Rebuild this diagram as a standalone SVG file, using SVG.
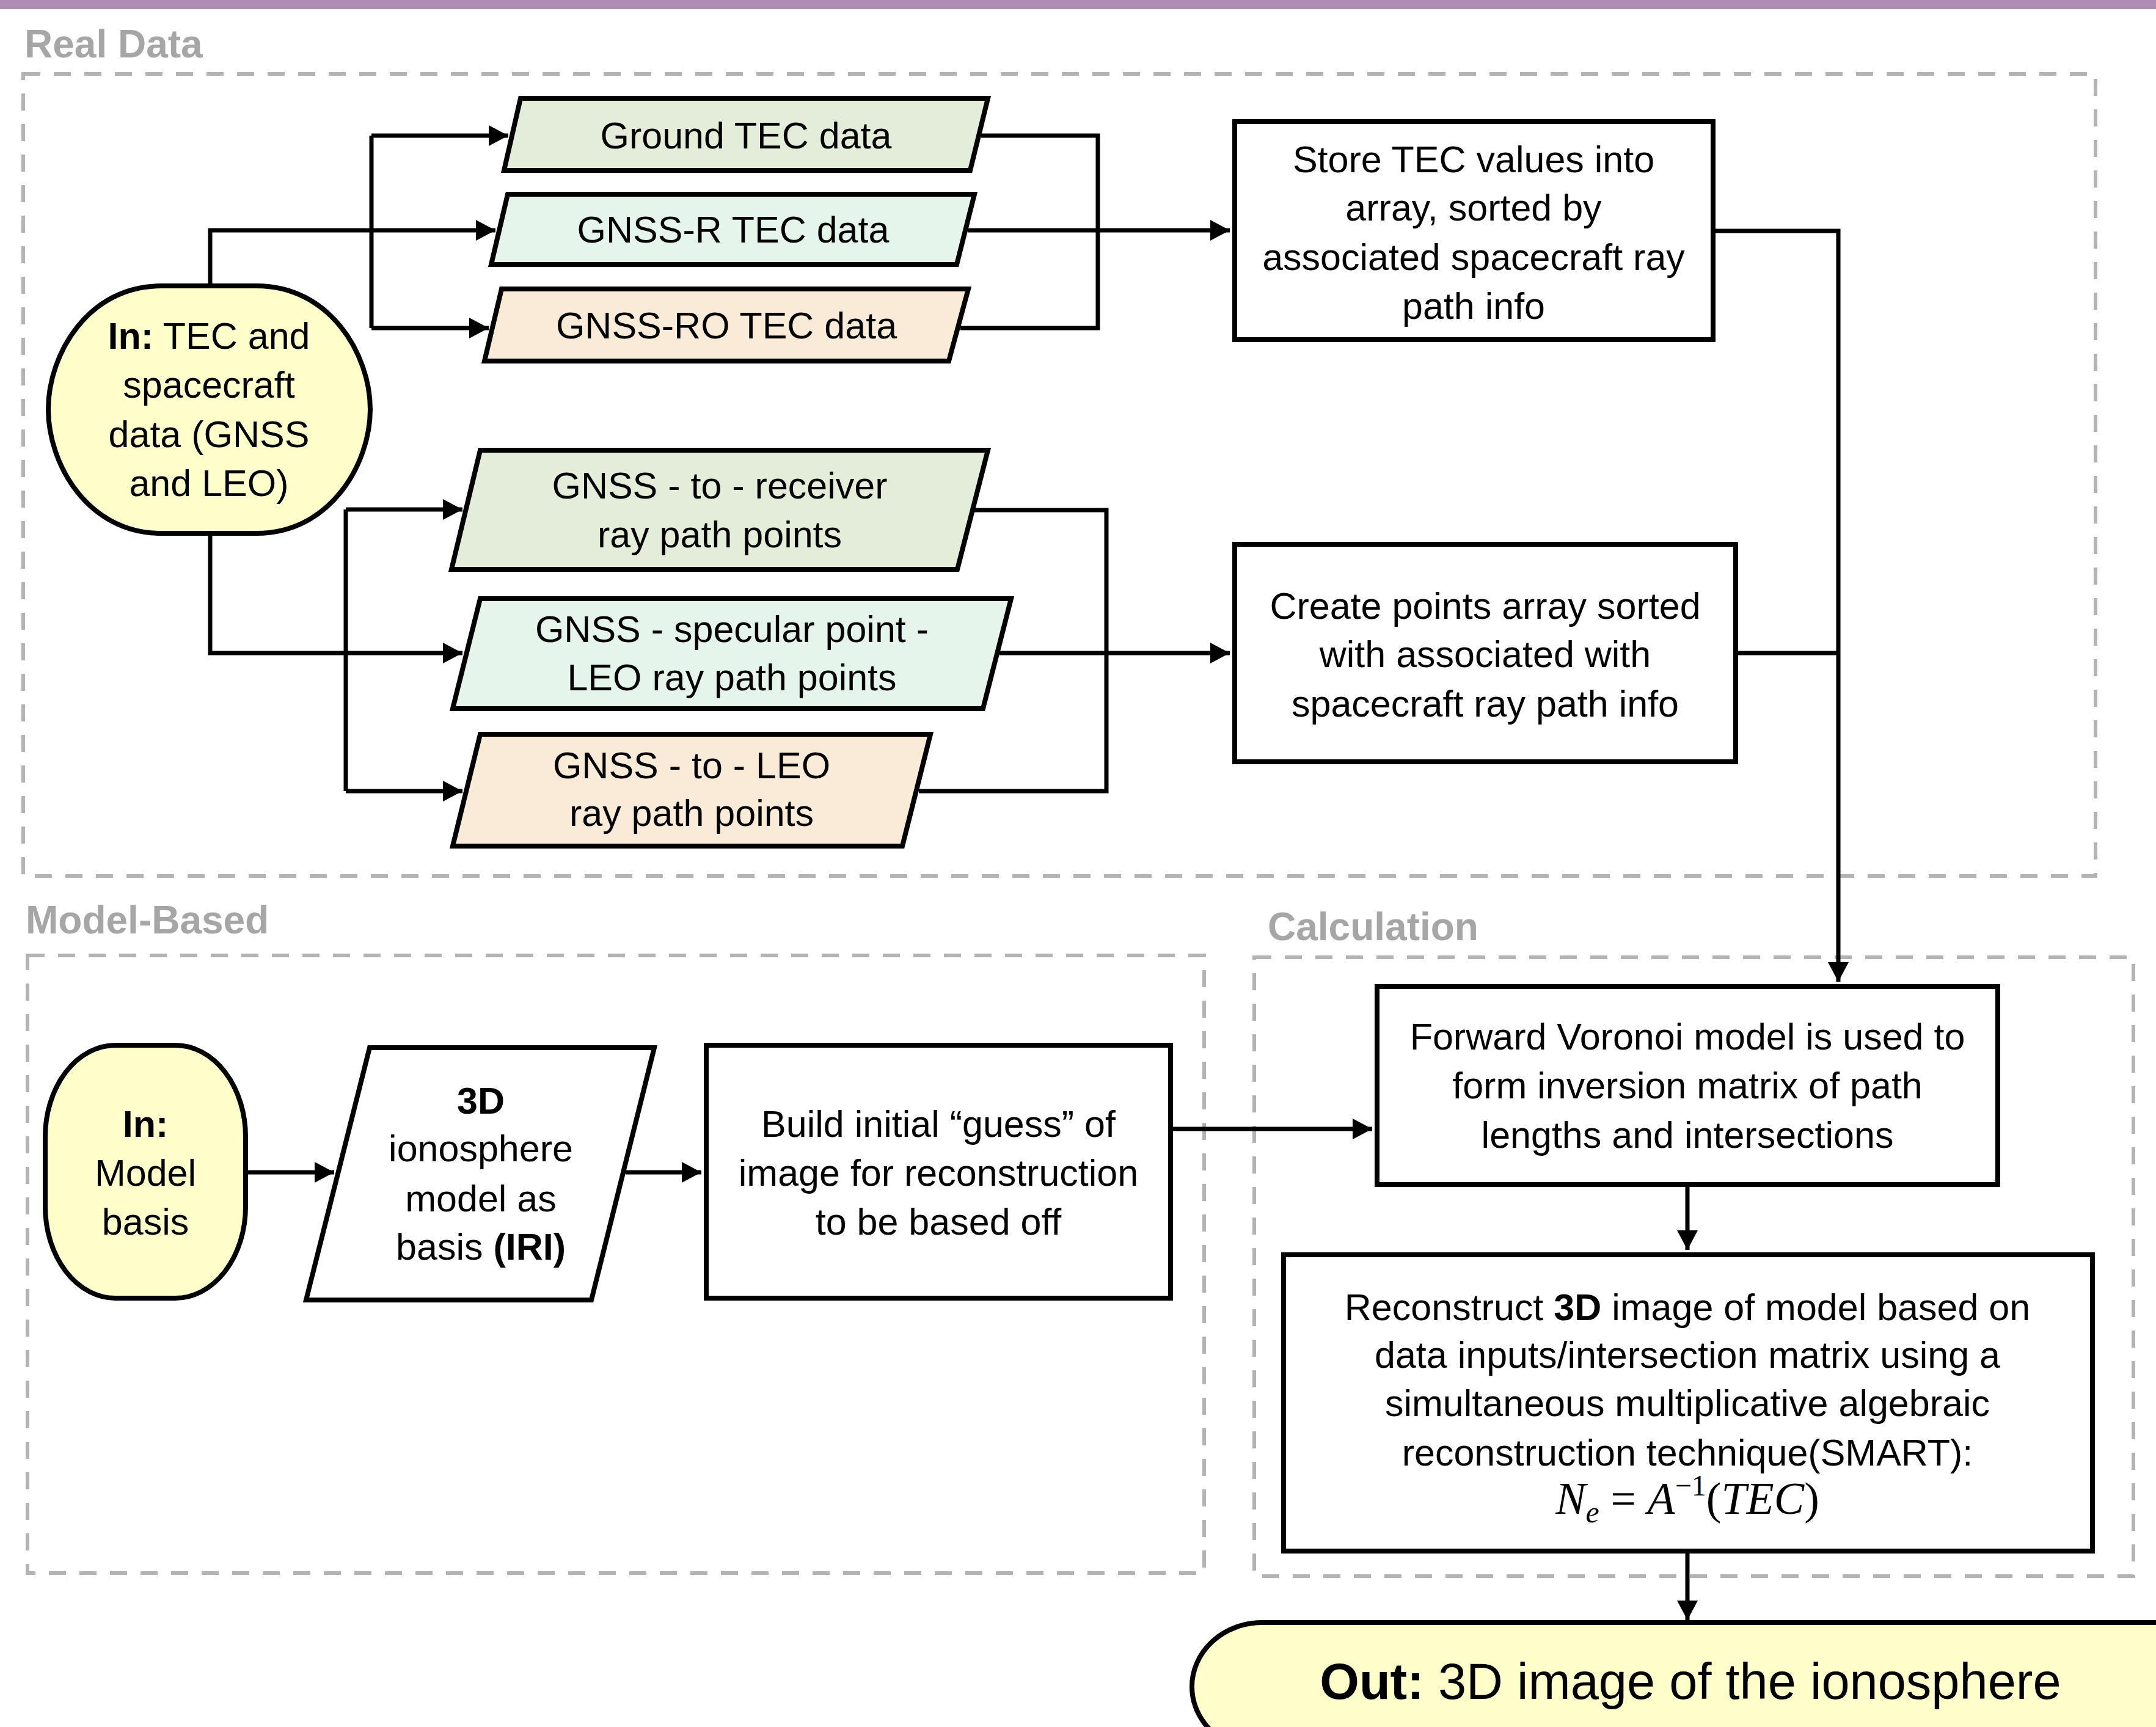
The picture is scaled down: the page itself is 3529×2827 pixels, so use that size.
<svg xmlns="http://www.w3.org/2000/svg" width="3529" height="2827" viewBox="0 0 3529 2827">
<defs>
<marker id="arr" markerUnits="userSpaceOnUse" markerWidth="34" markerHeight="34" refX="32" refY="17" orient="auto"><path d="M0,0 L32,17 L0,34 Z" fill="#000"/></marker>
</defs>
<style>
.t{font-family:"Liberation Sans",Arial,sans-serif;font-size:61px;fill:#000;text-anchor:middle}
.b{font-weight:bold}
.lbl{font-family:"Liberation Sans",Arial,sans-serif;font-size:64px;font-weight:bold;fill:#A6A6A6}
.grp{fill:none;stroke:#B3B3B3;stroke-width:6;stroke-dasharray:28 22}
.n{stroke:#000;stroke-width:8;stroke-linejoin:miter}
.c{fill:none;stroke:#000;stroke-width:7}
.ca{fill:none;stroke:#000;stroke-width:7;marker-end:url(#arr)}
.y{fill:#FFFFCC}
.g{fill:#E4EDD9}
.m{fill:#E5F5EC}
.p{fill:#FAEBD8}
.w{fill:#FFFFFF}
</style>
<rect x="0" y="0" width="3529" height="2827" fill="#FFFFFF"/>
<rect x="0" y="0" width="3529" height="15" fill="#AF8CB6"/>

<g id="groups">
<rect class="grp" x="38" y="121" width="3392" height="1313"/>
<text class="lbl" x="40" y="94">Real Data</text>
<rect class="grp" x="45" y="1564" width="1926" height="1011"/>
<text class="lbl" x="42" y="1528">Model-Based</text>
<rect class="grp" x="2053" y="1567" width="1439" height="1013"/>
<text class="lbl" x="2075" y="1539">Calculation</text>
</g>

<g id="connectors">
<path class="ca" d="M344,468 L344,377 L811,377"/>
<path class="c" d="M608,222 L608,537"/>
<path class="ca" d="M608,222 L832,222"/>
<path class="ca" d="M608,537 L800,537"/>
<path class="c" d="M1606,222 L1797,222 L1797,537 L1572,537"/>
<path class="ca" d="M1584,377 L2013,377"/>
<path class="ca" d="M344,873 L344,1069 L757,1069"/>
<path class="c" d="M566,834 L566,1295"/>
<path class="ca" d="M566,834 L757,834"/>
<path class="ca" d="M566,1295 L757,1295"/>
<path class="c" d="M1595,835 L1811,835 L1811,1295 L1504,1295"/>
<path class="ca" d="M1636,1069 L2013,1069"/>
<path class="ca" d="M2808,378 L3009,378 L3009,1607"/>
<path class="c" d="M2845,1069 L3009,1069"/>
<path class="ca" d="M406,1919 L547,1919"/>
<path class="ca" d="M1024,1919 L1148,1919"/>
<path class="ca" d="M1920,1848 L2246,1848"/>
<path class="ca" d="M2762,1943 L2762,2046"/>
<path class="ca" d="M2762,2543 L2762,2652"/>
</g>

<g id="in-tec">
<path class="n y" d="M264,468 L420,468 C540,468 606,580 606,670 C606,760 540,873 420,873 L264,873 C144,873 79,760 79,670 C79,580 144,468 264,468 Z"/>
<text class="t" x="342" y="571"><tspan class="b">In:</tspan> TEC and</text>
<text class="t" x="342" y="651">spacecraft</text>
<text class="t" x="342" y="732">data (GNSS</text>
<text class="t" x="342" y="812">and LEO)</text>
</g>

<g id="ground-tec">
<polygon class="n g" points="852,161 1617,161 1588,279 825,279"/>
<text class="t" x="1221" y="243">Ground TEC data</text>
</g>
<g id="gnssr-tec">
<polygon class="n m" points="831,318 1595,318 1566,433 804,433"/>
<text class="t" x="1200" y="397">GNSS-R TEC data</text>
</g>
<g id="gnssro-tec">
<polygon class="n p" points="821,473 1585,473 1553,591 793,591"/>
<text class="t" x="1189" y="554">GNSS-RO TEC data</text>
</g>

<g id="store-tec">
<rect class="n w" x="2021" y="199" width="783" height="357"/>
<text class="t" x="2412" y="282">Store TEC values into</text>
<text class="t" x="2412" y="361">array, sorted by</text>
<text class="t" x="2412" y="442">associated spacecraft ray</text>
<text class="t" x="2412" y="522">path info</text>
</g>

<g id="gnss-receiver">
<polygon class="n g" points="786,737 1617,737 1567,932 739,932"/>
<text class="t" x="1178" y="816">GNSS - to - receiver</text>
<text class="t" x="1178" y="896">ray path points</text>
</g>
<g id="gnss-specular">
<polygon class="n m" points="786,980 1655,980 1609,1160 741,1160"/>
<text class="t" x="1198" y="1051">GNSS - specular point -</text>
<text class="t" x="1198" y="1130">LEO ray path points</text>
</g>
<g id="gnss-leo">
<polygon class="n p" points="786,1202 1523,1202 1477,1385 741,1385"/>
<text class="t" x="1132" y="1274">GNSS - to - LEO</text>
<text class="t" x="1132" y="1352">ray path points</text>
</g>

<g id="create-points">
<rect class="n w" x="2021" y="891" width="820" height="356"/>
<text class="t" x="2431" y="1013">Create points array sorted</text>
<text class="t" x="2431" y="1092">with associated with</text>
<text class="t" x="2431" y="1173">spacecraft ray path info</text>
</g>

<g id="in-model">
<rect class="n y" x="74" y="1711" width="328" height="414" rx="115" ry="150"/>
<text class="t b" x="238" y="1861">In:</text>
<text class="t" x="238" y="1941">Model</text>
<text class="t" x="238" y="2021">basis</text>
</g>

<g id="iri-model">
<polygon class="n w" points="605,1715 1071,1715 968,2128 501,2128"/>
<text class="t b" x="787" y="1823">3D</text>
<text class="t" x="787" y="1901">ionosphere</text>
<text class="t" x="787" y="1983">model as</text>
<text class="t" x="787" y="2062">basis <tspan class="b">(IRI)</tspan></text>
</g>

<g id="build-guess">
<rect class="n w" x="1156" y="1711" width="760" height="414"/>
<text class="t" x="1536" y="1861">Build initial “guess” of</text>
<text class="t" x="1536" y="1941">image for reconstruction</text>
<text class="t" x="1536" y="2021">to be based off</text>
</g>

<g id="forward-voronoi">
<rect class="n w" x="2254" y="1615" width="1016" height="324"/>
<text class="t" x="2762" y="1718">Forward Voronoi model is used to</text>
<text class="t" x="2762" y="1798">form inversion matrix of path</text>
<text class="t" x="2762" y="1879">lengths and intersections</text>
</g>

<g id="reconstruct">
<rect class="n w" x="2101" y="2054" width="1324" height="485"/>
<text class="t" x="2762" y="2161">Reconstruct <tspan class="b">3D</tspan> image of model based on</text>
<text class="t" x="2762" y="2239">data inputs/intersection matrix using a</text>
<text class="t" x="2762" y="2318">simultaneous multiplicative algebraic</text>
<text class="t" x="2762" y="2399">reconstruction technique(SMART):</text>
<text x="2762" y="2478" font-family="Liberation Serif, serif" font-size="74" text-anchor="middle" fill="#000"><tspan font-style="italic">N</tspan><tspan font-style="italic" font-size="50" dy="14">e</tspan><tspan dy="-14"> = </tspan><tspan font-style="italic">A</tspan><tspan font-size="48" dy="-30">−1</tspan><tspan dy="30">(</tspan><tspan font-style="italic">TEC</tspan>)</text>
</g>

<g id="out">
<rect class="n y" x="1951" y="2656" width="1800" height="210" rx="115" ry="105"/>
<text class="t" x="2767" y="2781" style="font-size:83px"><tspan class="b">Out:</tspan> 3D image of the ionosphere</text>
</g>
</svg>
